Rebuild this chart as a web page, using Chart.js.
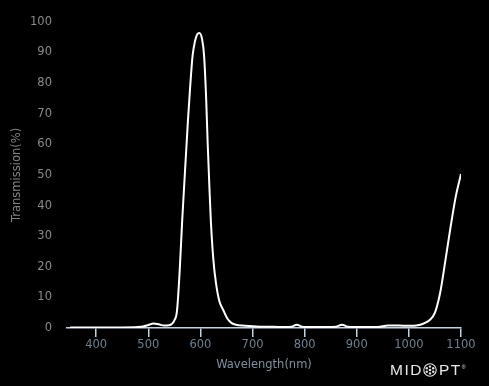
<!DOCTYPE html>
<html>
<head>
<meta charset="utf-8">
<script src="https://cdn.jsdelivr.net/npm/chart.js@4"></script>
<style>
  html, body { margin: 0; padding: 0; background: #000; }
  #wrap { position: relative; width: 489px; height: 386px; }
  #logo { position: absolute; left: 390px; top: 361px; height: 18px; color: #e8e8e8;
          font-family: "Liberation Sans", Arial, sans-serif; font-size: 15.5px; line-height: 18px;
          letter-spacing: 1.5px; white-space: nowrap; display: flex; align-items: center; }
  #logo svg { margin: 0 2px 0 0; }
  #logo sup { font-size: 5px; vertical-align: top; position: relative; top: -3px; letter-spacing: 0; }
</style>
</head>
<body>
<div id="wrap">
  <canvas id="c" width="489" height="386"></canvas>
  <div id="logo"><span>MID</span><svg width="14" height="14" viewBox="0 0 14 14">
    <circle cx="7" cy="7" r="6.2" fill="none" stroke="#e8e8e8" stroke-width="1.1"/>
    <circle cx="7" cy="7" r="1.3" fill="#e8e8e8"/>
    <circle cx="7" cy="3.6" r="1.2" fill="#e8e8e8"/><circle cx="7" cy="10.4" r="1.2" fill="#e8e8e8"/>
    <circle cx="3.8" cy="5.3" r="1.2" fill="#e8e8e8"/><circle cx="10.2" cy="5.3" r="1.2" fill="#e8e8e8"/>
    <circle cx="3.8" cy="8.7" r="1.2" fill="#e8e8e8"/><circle cx="10.2" cy="8.7" r="1.2" fill="#e8e8e8"/>
  </svg><span>PT</span><sup>®</sup></div>
</div>
<script>
const wavelengths = [350,400,450,480,490,500,510,520,530,540,545,550,555,560,565,570,576,580,585,590,594,598,603,607,611,614,617,620,625,630,636,644,652,660,670,680,700,720,740,760,775,785,795,820,860,872,882,900,940,960,980,1000,1020,1030,1040,1050,1060,1070,1080,1090,1100];
const transmission = [0.2,0.2,0.2,0.3,0.5,1.0,1.5,1.2,0.8,0.9,1.3,2.5,5.5,18,35,50,67.6,78,89,94,96,96.4,94.5,89,75,60,47,35,22,14.5,9,5.8,3,1.6,1.0,0.8,0.6,0.4,0.4,0.3,0.4,1.1,0.4,0.3,0.4,1.1,0.4,0.3,0.3,0.8,0.8,0.7,1.0,1.6,2.6,5.0,11.5,22,33,43,50.3];
const xTicks = [400,500,600,700,800,900,1000,1100];
const yTicks = [0,10,20,30,40,50,60,70,80,90,100];

const font = { family: '"DejaVu Sans", Verdana, sans-serif', size: 11.5 };

new Chart(document.getElementById('c'), {
  type: 'line',
  data: {
    datasets: [{
      data: wavelengths.map((w, i) => ({ x: w, y: transmission[i] })),
      borderColor: '#ffffff',
      borderWidth: 2,
      pointRadius: 0,
      fill: false,
      cubicInterpolationMode: 'monotone'
    }]
  },
  options: {
    responsive: false,
    animation: false,
    layout: { padding: { top: 20, right: 28, left: 0, bottom: 0 } },
    plugins: { legend: { display: false }, tooltip: { enabled: false } },
    scales: {
      x: {
        type: 'linear',
        min: 344, max: 1100,
        afterBuildTicks: s => { s.ticks = xTicks.map(v => ({ value: v })); },
        afterFit: s => { s.height = 58; },
        border: { color: '#c4d2e0', width: 1.5 },
        grid: { display: true, drawOnChartArea: false, drawTicks: true, tickLength: 9, color: '#c4d2e0', lineWidth: 1.5 },
        ticks: { color: '#6f7f8f', font: font, padding: 1, maxRotation: 0, autoSkip: false, callback: v => String(v) },
        title: { display: true, text: 'Wavelength(nm)', color: '#7f8fa0', font: font, padding: { top: 0, bottom: 14 } }
      },
      y: {
        min: 0, max: 100,
        afterBuildTicks: s => { s.ticks = yTicks.map(v => ({ value: v })); },
        afterFit: s => { s.width = 67; },
        border: { display: false },
        grid: { display: false, drawTicks: false },
        ticks: { color: '#8a8a8a', font: font, padding: 15, callback: v => String(v) },
        title: { display: true, text: 'Transmission(%)', color: '#858585', font: font, padding: { top: 10, bottom: 0 } }
      }
    }
  }
});
</script>
</body>
</html>
